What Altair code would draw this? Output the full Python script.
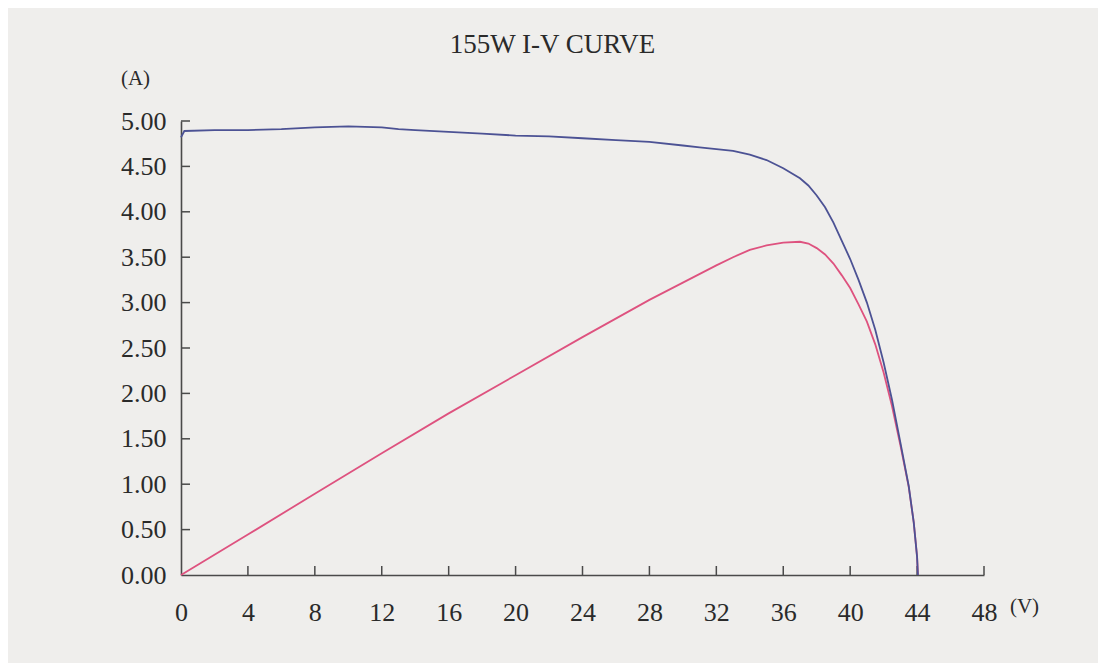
import altair as alt
import pandas as pd

# Blue I-V curve (current, A)
v_current = [0, 0.2, 2, 4, 6, 8, 10, 12, 13, 14, 16, 18, 20, 22, 24, 26, 28, 30, 31, 32,
             33, 34, 35, 36, 37, 37.5, 38, 38.5, 39, 39.5, 40, 40.5, 41, 41.5, 42, 42.5,
             43, 43.5, 43.8, 44.0, 44.05]
current = [4.82, 4.89, 4.90, 4.90, 4.91, 4.93, 4.94, 4.93, 4.91, 4.90, 4.88, 4.86, 4.84,
           4.83, 4.81, 4.79, 4.77, 4.73, 4.71, 4.69, 4.67, 4.63, 4.57, 4.48, 4.37, 4.29,
           4.18, 4.05, 3.88, 3.68, 3.48, 3.25, 3.00, 2.70, 2.34, 1.93, 1.46, 0.98, 0.58,
           0.20, 0.0]

# Pink power curve (scaled onto the A axis)
v_power = [0, 4, 8, 12, 16, 20, 24, 28, 30, 32, 33, 34, 35, 36, 37, 37.5, 38, 38.5, 39,
           39.5, 40, 40.5, 41, 41.5, 42, 42.5, 43, 43.5, 43.8, 44.0, 44.05]
power = [0, 0.445, 0.895, 1.34, 1.78, 2.20, 2.62, 3.03, 3.22, 3.41, 3.50, 3.58, 3.63,
         3.66, 3.67, 3.65, 3.60, 3.53, 3.43, 3.30, 3.16, 2.98, 2.79, 2.54, 2.23, 1.86,
         1.43, 0.97, 0.58, 0.20, 0.0]

x_ticks = [0, 4, 8, 12, 16, 20, 24, 28, 32, 36, 40, 44, 48]
y_ticks = [0.0, 0.5, 1.0, 1.5, 2.0, 2.5, 3.0, 3.5, 4.0, 4.5, 5.0]

FONT = "Liberation Serif"
W, H = 803, 454
INK = "#2a2a2a"

df_i = pd.DataFrame({"V": v_current, "val": current, "order": range(len(v_current))})
df_p = pd.DataFrame({"V": v_power, "val": power, "order": range(len(v_power))})
df_xt = pd.DataFrame({"t": x_ticks[1:]})
df_yt = pd.DataFrame({"t": y_ticks[1:]})

xscale = alt.Scale(domain=[0, 48], nice=False, zero=False)
yscale = alt.Scale(domain=[0, 5], nice=False)

xaxis = alt.Axis(values=x_ticks, format="d", ticks=False, grid=False, labelFlush=False,
                 labelFont=FONT, labelFontSize=26, labelColor=INK, labelPadding=24,
                 domainColor="#4a4a4a", domainWidth=1.6,
                 title="(V)", titleFont=FONT, titleFontSize=21, titleFontWeight="normal",
                 titleColor=INK, titleX=843, titleY=31, titleAlign="center",
                 titleBaseline="middle")
yaxis = alt.Axis(values=y_ticks, format=".2f", ticks=False, grid=False, labelFlush=False,
                 labelFont=FONT, labelFontSize=26, labelColor=INK, labelPadding=15,
                 domainColor="#4a4a4a", domainWidth=1.6,
                 title="(A)", titleFont=FONT, titleFontSize=21, titleFontWeight="normal",
                 titleColor=INK, titleAngle=0, titleX=-46, titleY=-43,
                 titleAlign="center", titleBaseline="middle")

curve_i = alt.Chart(df_i).mark_line(color="#4c5294", strokeWidth=1.8).encode(
    x=alt.X("V:Q", scale=xscale, axis=xaxis),
    y=alt.Y("val:Q", scale=yscale, axis=yaxis),
    order="order:Q",
)
curve_p = alt.Chart(df_p).mark_line(color="#de527f", strokeWidth=1.8).encode(
    x=alt.X("V:Q", scale=xscale),
    y=alt.Y("val:Q", scale=yscale),
    order="order:Q",
)
xt = alt.Chart(df_xt).mark_rule(color="#4a4a4a", strokeWidth=1.5).encode(
    x=alt.X("t:Q", scale=xscale),
    y=alt.value(H),
    y2=alt.value(H - 9),
)
yt = alt.Chart(df_yt).mark_rule(color="#4a4a4a", strokeWidth=1.5).encode(
    y=alt.Y("t:Q", scale=yscale),
    x=alt.value(0),
    x2=alt.value(9),
)

chart = alt.layer(xt, yt, curve_p, curve_i).properties(
    width=W,
    height=H,
    autosize=alt.AutoSizeParams(type="none"),
    padding={"left": 173, "top": 113, "right": 114, "bottom": 88},
    background="#efeeec",
    title=alt.TitleParams("155W I-V CURVE", font=FONT, fontSize=27, fontWeight="normal",
                          color=INK, anchor="middle", dx=-30, offset=8),
).configure_view(stroke=None)

chart.save("out.html", embed_options={"renderer": "svg", "actions": False})
